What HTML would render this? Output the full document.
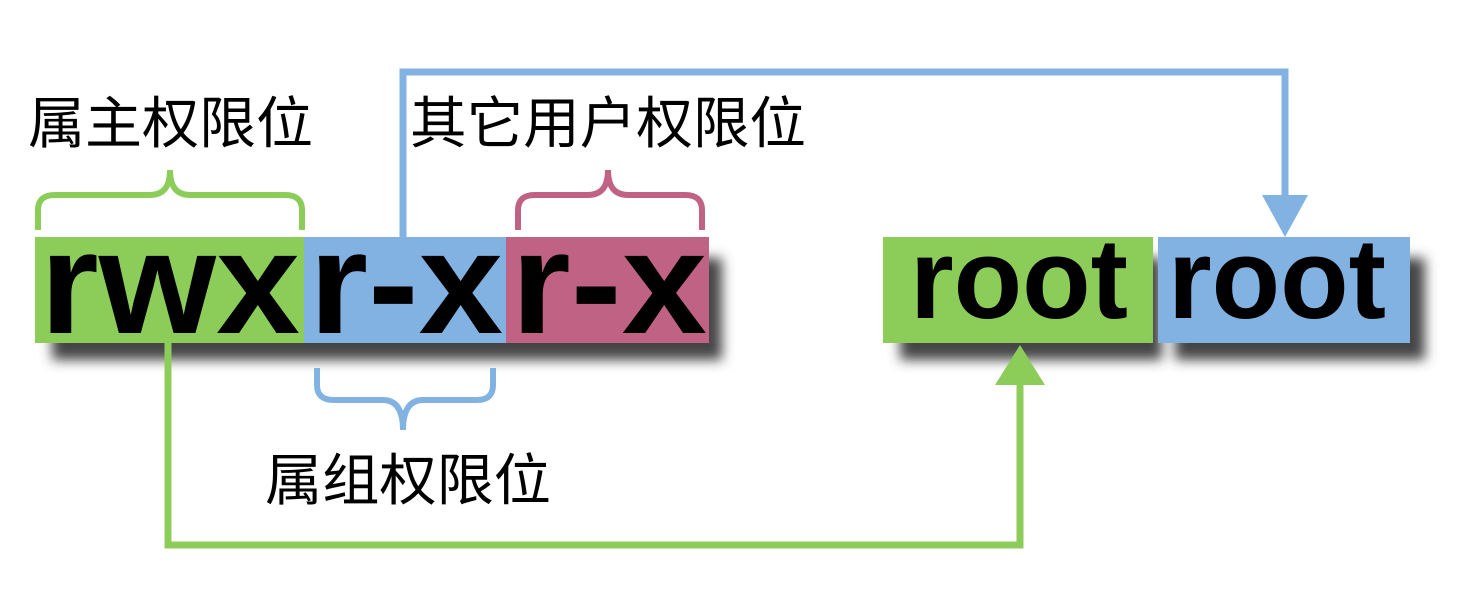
<!DOCTYPE html>
<html><head><meta charset="utf-8"><style>
html,body{margin:0;padding:0;background:#fff;}
svg{display:block;}
</style></head><body>
<svg width="1457" height="612" viewBox="0 0 1457 612" xmlns="http://www.w3.org/2000/svg">
<defs>
<filter id="sh" x="-10%" y="-20%" width="130%" height="160%"><feGaussianBlur stdDeviation="6"/></filter>
</defs>
<g filter="url(#sh)" fill="#444">
<rect x="52" y="258" width="670" height="102"/>
<rect x="900" y="258" width="262" height="102"/>
<rect x="1175" y="258" width="250" height="102"/>
</g>
<g fill="none" stroke-width="7" stroke-linejoin="miter">
<polyline points="168,343 168,545 1020,545 1020,380" stroke="#8ccd5a"/>
<polyline points="403,237 403,72 1285,72 1285,200" stroke="#82b2e2"/>
</g>
<polygon points="995,385 1045,385 1020,345" fill="#8ccd5a"/>
<polygon points="1262,195 1308,195 1285,237" fill="#82b2e2"/>
<rect x="35" y="237" width="269" height="106" fill="#8ccd5a"/>
<rect x="304" y="237" width="202" height="106" fill="#82b2e2"/>
<rect x="506" y="237" width="203" height="106" fill="#c06283"/>
<rect x="883" y="237" width="270" height="106" fill="#8ccd5a"/>
<rect x="1158" y="237" width="252" height="106" fill="#82b2e2"/>
<g fill="none" stroke-width="6">
<path d="M38,230 V210 Q38,195 55,195 H150 Q170,195 170,170 Q170,195 190,195 H285 Q302,195 302,210 V230" stroke="#8ccd5a"/>
<path d="M518,230 V210 Q518,195 535,195 H588 Q608,195 608,170 Q608,195 628,195 H685 Q702,195 702,210 V230" stroke="#c06283"/>
<path d="M317,368 V385 Q317,400 334,400 H383 Q403,400 403,430 Q403,400 423,400 H477 Q493,400 493,385 V368" stroke="#82b2e2"/>
</g>
<g font-family="Liberation Sans, sans-serif" font-weight="bold" font-size="146" fill="#000">
<text x="40" y="333" textLength="260" lengthAdjust="spacingAndGlyphs">rwx</text>
<text x="309" y="333" textLength="194" lengthAdjust="spacingAndGlyphs">r-x</text>
<text x="511" y="333" textLength="196" lengthAdjust="spacingAndGlyphs">r-x</text>
<text x="910" y="318" font-size="114" textLength="218" lengthAdjust="spacingAndGlyphs">root</text>
<text x="1168" y="318" font-size="114" textLength="218" lengthAdjust="spacingAndGlyphs">root</text>
</g>
<g font-family="Liberation Sans, Noto Sans CJK SC, sans-serif" font-size="56" fill="#000">
<text x="28" y="143" textLength="285" lengthAdjust="spacingAndGlyphs">属主权限位</text>
<text x="410" y="143" textLength="396" lengthAdjust="spacingAndGlyphs">其它用户权限位</text>
<text x="265" y="500" textLength="286" lengthAdjust="spacingAndGlyphs">属组权限位</text>
</g>
</svg>
</body></html>
